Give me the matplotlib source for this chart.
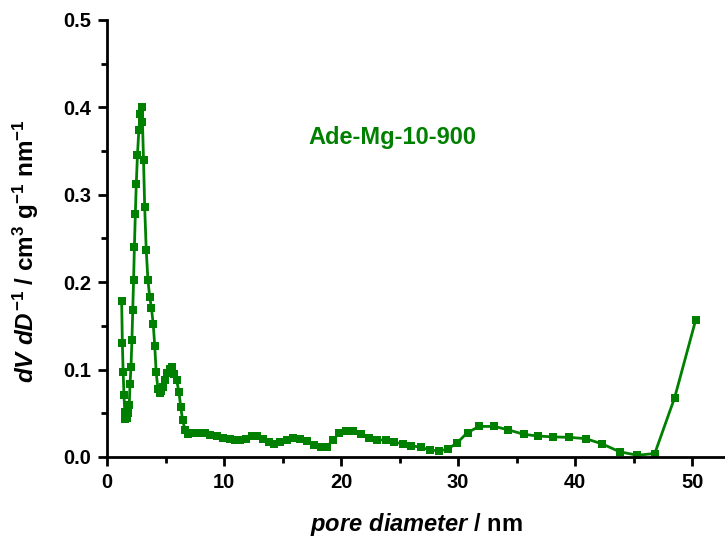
import matplotlib
matplotlib.use("Agg")
import matplotlib.pyplot as plt
from matplotlib.ticker import MultipleLocator

plt.rcParams['font.family'] = ['Liberation Sans', 'DejaVu Sans']
plt.rcParams['mathtext.fontset'] = 'custom'
plt.rcParams['mathtext.rm'] = 'Liberation Sans:bold'
plt.rcParams['mathtext.it'] = 'Liberation Sans:bold:italic'
plt.rcParams['mathtext.bf'] = 'Liberation Sans:bold'

pore_diameter = [
    1.25, 1.31, 1.38, 1.45, 1.52, 1.58, 1.66, 1.74, 1.82, 1.90, 1.97, 2.05, 2.13,
    2.20, 2.27, 2.34, 2.42, 2.50, 2.60, 2.72, 2.85, 2.95, 3.03, 3.12, 3.22, 3.35,
    3.50, 3.65, 3.80, 3.95, 4.08, 4.20, 4.35, 4.50, 4.65, 4.80, 4.96, 5.15, 5.35,
    5.55, 5.75, 5.95, 6.15, 6.30, 6.46, 6.67, 6.95, 7.3, 7.66, 8.0, 8.4, 8.8, 9.4,
    9.9, 10.5, 10.9, 11.4, 11.9, 12.4, 12.8, 13.3, 13.8, 14.3, 14.8, 15.4, 15.9,
    16.5, 17.1, 17.7, 18.3, 18.8, 19.3, 19.8, 20.4, 21.0, 21.7, 22.4, 23.1, 23.8,
    24.5, 25.3, 26.0, 26.8, 27.6, 28.4, 29.1, 29.9, 30.8, 31.8, 33.1, 34.3, 35.6,
    36.8, 38.1, 39.5, 40.9, 42.3, 43.8, 45.3, 46.8, 48.5, 50.3,
]
dv_dd = [
    0.179, 0.131, 0.097, 0.071, 0.052, 0.043, 0.047, 0.045, 0.050, 0.060, 0.084, 0.103, 0.134,
    0.168, 0.202, 0.240, 0.278, 0.312, 0.345, 0.374, 0.393, 0.400, 0.383, 0.340, 0.286, 0.237,
    0.202, 0.183, 0.170, 0.152, 0.127, 0.097, 0.078, 0.073, 0.075, 0.080, 0.088, 0.096, 0.101,
    0.103, 0.095, 0.088, 0.074, 0.057, 0.042, 0.031, 0.026, 0.027, 0.028, 0.028, 0.027, 0.025, 0.024,
    0.022, 0.021, 0.020, 0.020, 0.021, 0.024, 0.024, 0.021, 0.017, 0.015, 0.017, 0.020, 0.022,
    0.021, 0.018, 0.014, 0.011, 0.012, 0.019, 0.027, 0.030, 0.030, 0.026, 0.022, 0.020, 0.019,
    0.017, 0.015, 0.013, 0.011, 0.008, 0.007, 0.009, 0.016, 0.028, 0.035, 0.035, 0.031, 0.026,
    0.024, 0.023, 0.0225, 0.021, 0.015, 0.006, 0.002, 0.004, 0.068, 0.157,
]
sample_label = "Ade-Mg-10-900"
color = "#008000"

fig = plt.figure(figsize=(7.25, 5.39), dpi=100)
ax = fig.add_axes([107 / 725, 82 / 539, 1 - 107 / 725, (539 - 82 - 20) / 539])

ax.plot(pore_diameter, dv_dd, color=color, lw=2.0, marker='s', markersize=6.2,
        markeredgewidth=0, clip_on=False)

ax.set_xlim(0, 52.8)
ax.set_ylim(0, 0.5)
ax.xaxis.set_major_locator(MultipleLocator(10))
ax.xaxis.set_minor_locator(MultipleLocator(5))
ax.yaxis.set_major_locator(MultipleLocator(0.1))
ax.yaxis.set_minor_locator(MultipleLocator(0.05))
ax.yaxis.set_major_formatter(plt.FuncFormatter(lambda v, p: f"{v:.1f}"))

for s in ['top', 'right']:
    ax.spines[s].set_visible(False)
for s in ['left', 'bottom']:
    ax.spines[s].set_linewidth(2.0)

ax.tick_params(which='major', direction='out', length=6.5, width=2.0, labelsize=14.5, pad=5)
ax.tick_params(which='minor', direction='out', length=4, width=2.0)
for lab in ax.get_xticklabels() + ax.get_yticklabels():
    lab.set_fontweight('bold')

ax.set_xlabel(r'$pore\ diameter$ / nm', fontsize=17, fontweight='bold', labelpad=14)
ax.set_ylabel(r'$dV\ dD^{-1}$ / cm$^{3}$ g$^{-1}$ nm$^{-1}$', fontsize=17.5,
              fontweight='bold')
ax.yaxis.set_label_coords(-0.107, 0.47)

ax.text(24.4, 0.366, sample_label, color=color, fontsize=17, fontweight='bold',
        ha='center', va='center')

fig.savefig('out.png', dpi=100)
